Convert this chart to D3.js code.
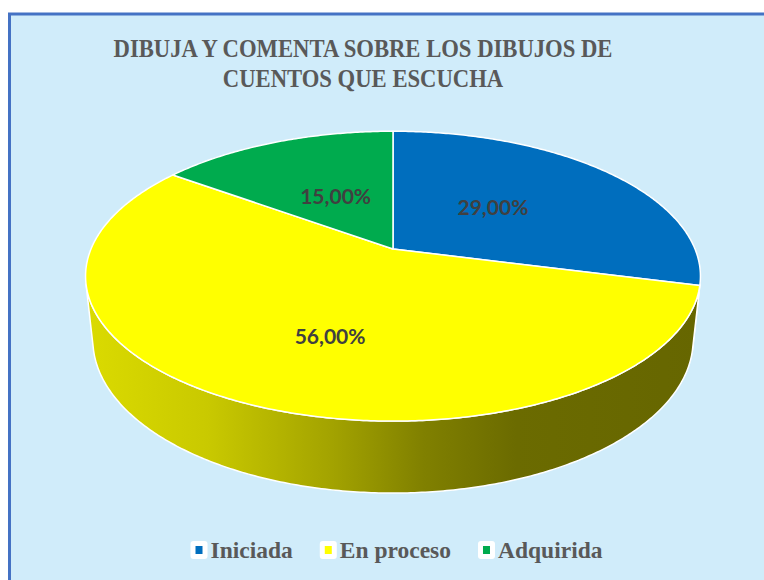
<!DOCTYPE html>
<html>
<head>
<meta charset="utf-8">
<script src="https://cdn.jsdelivr.net/npm/d3@7"></script>
<style>
  body { margin: 0; background: #fff; }
</style>
</head>
<body>
<script>
// chart data
const categories = ["Iniciada", "En proceso", "Adquirida"]
const values = [29, 56, 15]
const valueLabels = ["29,00%", "56,00%", "15,00%"]
const colors = ["#006EBE", "#FFFF00", "#00AB4E"]
const title = ["DIBUJA Y COMENTA SOBRE LOS DIBUJOS DE", "CUENTOS QUE ESCUCHA"]

// page
const W = 764, H = 580
const svg = d3.select("body").append("svg")
    .attr("width", W)
    .attr("height", H)

// chart area frame (runs off the right and bottom of the picture)
svg.append("rect")
    .attr("x", 9.5).attr("y", 14)
    .attr("width", W + 20).attr("height", H + 20)
    .attr("fill", "#D0ECFA")
    .attr("stroke", "#4472C4")
    .attr("stroke-width", 3)

// title (narrow serif look: squeeze horizontally)
svg.append("text")
    .attr("transform", "translate(363,0) scale(0.872,1)")
    .attr("text-anchor", "middle")
    .style("font-family", "'Liberation Serif', 'Times New Roman', serif")
    .style("font-weight", "bold")
    .style("font-size", "26px")
    .attr("fill", "#595959")
    .selectAll("tspan")
    .data(title)
    .enter().append("tspan")
      .attr("x", 0)
      .attr("y", (d, i) => 57 + i * 30)
      .text(d => d)

// 3D pie projection: unit circle tilted towards viewer, with perspective
const cx = 393, cy = 249, k = 302
const sinE = 0.463, cosE = Math.sqrt(1 - sinE * sinE)
const camDist = 4.73
const thick = 0.24

function proj(t, z, r) {
  r = r === undefined ? 1 : r
  const x3 = r * Math.sin(t), y3 = r * Math.cos(t)
  const v = z * cosE + y3 * sinE
  const d = y3 * cosE - z * sinE
  const s = camDist / (camDist + d)
  return [cx + k * x3 * s, cy - k * v * s]
}

function arcPts(t0, t1, z) {
  const n = Math.max(2, Math.ceil((t1 - t0) / 0.01))
  return d3.range(n + 1).map(i => proj(t0 + (t1 - t0) * i / n, z))
}

const pie = d3.pie().sort(null).value(d => d)
const slices = pie(values)
const line = d3.line()

// side shading gradient across the pie width
const shade = [[0, 0.86], [0.2, 0.79], [0.4, 0.64], [0.55, 0.5], [0.7, 0.42], [1, 0.4]]
const xLeft = cx - k * 1.02, xRight = cx + k * 1.02
const defs = svg.append("defs")
colors.forEach((c, i) => {
  const base = d3.rgb(c)
  defs.append("linearGradient")
      .attr("id", "side" + i)
      .attr("gradientUnits", "userSpaceOnUse")
      .attr("x1", xLeft).attr("x2", xRight)
      .attr("y1", 0).attr("y2", 0)
    .selectAll("stop")
    .data(shade)
    .enter().append("stop")
      .attr("offset", d => d[0])
      .attr("stop-color", d => d3.rgb(base.r * d[1], base.g * d[1], base.b * d[1]).toString())
})

// visible part of the outer wall
const tVis = Math.acos(-1 / (camDist * cosE))
const gSide = svg.append("g")
slices.forEach((s, i) => {
  const t0 = Math.max(s.startAngle, tVis)
  const t1 = Math.min(s.endAngle, 2 * Math.PI - tVis)
  if (t1 <= t0) return
  const pts = arcPts(t0, t1, 0).concat(arcPts(t0, t1, -thick).reverse())
  gSide.append("path")
      .attr("d", line(pts) + "Z")
      .attr("fill", "url(#side" + i + ")")
      .attr("stroke", "#fff")
      .attr("stroke-width", 1.5)
      .attr("stroke-linejoin", "round")
})

// top faces
const gTop = svg.append("g")
slices.forEach((s, i) => {
  const pts = [proj(0, 0, 0)].concat(arcPts(s.startAngle, s.endAngle, 0))
  gTop.append("path")
      .attr("d", line(pts) + "Z")
      .attr("fill", colors[i])
      .attr("stroke", "#fff")
      .attr("stroke-width", 1.5)
      .attr("stroke-linejoin", "round")
})

// data labels (radius and angle nudge per slice, like the original layout)
const labelR = [0.47, 0.593, 0.45]
const labelTurn = [-0.07, -0.12, 0]
function labelPos(d, i) {
  return proj((d.startAngle + d.endAngle) / 2 + labelTurn[i], 0, labelR[i])
}
svg.append("g")
  .selectAll("text")
  .data(slices)
  .enter().append("text")
    .attr("x", (d, i) => labelPos(d, i)[0])
    .attr("y", (d, i) => labelPos(d, i)[1])
    .attr("dy", "0.35em")
    .attr("text-anchor", "middle")
    .style("font-family", "Lato, 'Open Sans', sans-serif")
    .style("font-weight", "bold")
    .style("font-size", "21px")
    .attr("fill", "#404040")
    .text((d, i) => valueLabels[i])

// legend
const legend = svg.append("g")
const items = legend.selectAll("g")
    .data(categories)
    .enter().append("g")
items.append("rect")
    .attr("width", 17).attr("height", 18)
    .attr("y", -17)
    .attr("rx", 3)
    .attr("fill", "#fff")
items.append("rect")
    .attr("x", 5).attr("y", -12)
    .attr("width", 7).attr("height", 8)
    .attr("fill", (d, i) => colors[i])
items.append("text")
    .attr("x", 20)
    .style("font-family", "'Liberation Serif', 'Times New Roman', serif")
    .style("font-weight", "bold")
    .style("font-size", "23.5px")
    .attr("fill", "#595959")
    .text(d => d)

let xPos = 0
items.each(function() {
  const g = d3.select(this)
  g.attr("transform", "translate(" + xPos + ",0)")
  xPos += 20 + g.select("text").node().getComputedTextLength() + 27
})
const legendW = xPos - 27
legend.attr("transform", "translate(" + (396.5 - legendW / 2) + ",558)")
</script>
</body>
</html>
